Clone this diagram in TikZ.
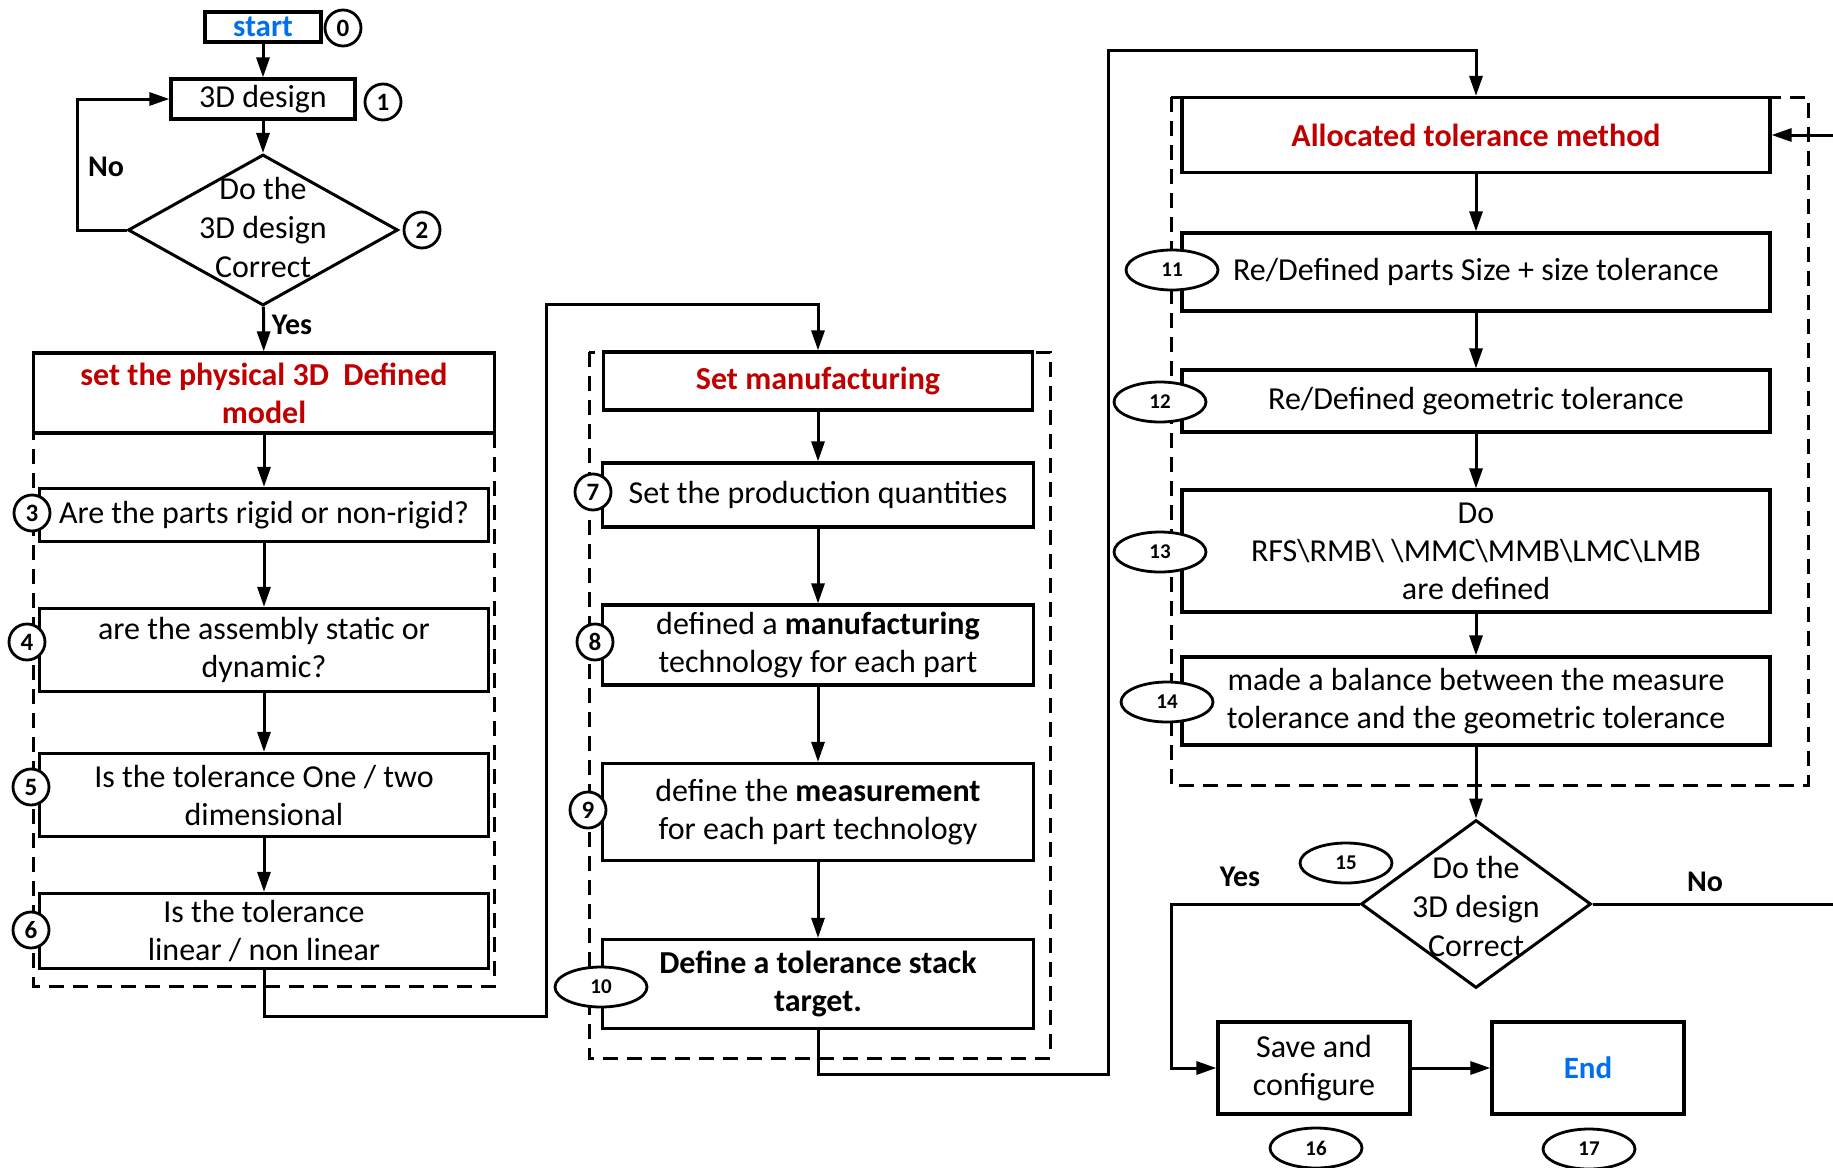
\documentclass[tikz,border=0pt]{standalone}
\usepackage{fontspec}
\setmainfont{Carlito}
\usetikzlibrary{shapes.geometric,arrows.meta}
\definecolor{headred}{RGB}{192,0,0}
\definecolor{linkblue}{RGB}{0,112,240}

\begin{document}
\begin{tikzpicture}[x=1pt,y=-1pt]
\tikzstyle{every node}+=[inner sep=0pt]
\tikzstyle{stepbox}=[draw=black,line width=3.2pt,fill=white,rectangle,align=center,font=\fontsize{32}{38}\selectfont]
\tikzstyle{headbox}=[stepbox,font=\fontsize{32}{38}\selectfont\bfseries,text=headred]
\tikzstyle{decision}=[draw=black,line width=3pt,fill=white,diamond]
\tikzstyle{numcirc}=[draw=black,line width=2.8pt,fill=white,circle,minimum size=36pt,font=\fontsize{25}{25}\selectfont\bfseries]
\tikzstyle{numoval}=[draw=black,line width=2.8pt,fill=white,ellipse,minimum width=92pt,minimum height=40pt,font=\fontsize{21}{21}\selectfont\bfseries]
\tikzstyle{arr}=[line width=3pt,-{Triangle[length=20pt,width=13pt]}]
\tikzstyle{link}=[line width=3pt]
\tikzstyle{group}=[line width=3pt,dash pattern=on 15pt off 9pt]
\tikzstyle{answer}=[font=\fontsize{30}{30}\selectfont\bfseries]
\tikzstyle{plain}=[align=center,font=\fontsize{32}{39}\selectfont]

\useasboundingbox (0,0) rectangle (1833,1167);

\draw [group] (33.5,353) rectangle (494.5,986);
\draw [group] (589,352) rectangle (1050,1058);
\draw [group] (1171,97) rectangle (1808,785);

\node [stepbox,minimum width=116pt,minimum height=30pt,font=\fontsize{31}{31}\selectfont\bfseries,text=linkblue] (start) at (263,27) {start};
\node [numcirc] (n0) at (343,28) {0};
\node [stepbox,minimum width=184pt,minimum height=40pt] (design) at (263,99) {3D design};
\node [numcirc] (n1) at (383,102) {1};
\node [decision,minimum width=270pt,minimum height=151pt] (dec1) at (263,230) {};
\node [plain] (dec1txt) at (263,228) {Do the\\3D design\\Correct};
\node [numcirc] (n2) at (422,230) {2};
\node [answer] (no1) at (106,167) {No};
\node [answer] (yes1) at (292,325) {Yes};

\node [headbox,minimum width=461pt,minimum height=80pt] (phys) at (264,393) {set the physical 3D\ \ Defined\\model};
\node [stepbox,minimum width=449pt,minimum height=53pt] (q3) at (264,515) {Are the parts rigid or non-rigid?};
\node [numcirc] (n3) at (32,513) {3};
\node [stepbox,minimum width=449pt,minimum height=83pt] (q4) at (264,650) {are the assembly static or\\dynamic?};
\node [numcirc] (n4) at (27,642) {4};
\node [stepbox,minimum width=449pt,minimum height=83pt] (q5) at (264,795) {Is the tolerance One / two\\dimensional};
\node [numcirc] (n5) at (31,787) {5};
\node [stepbox,minimum width=449pt,minimum height=75pt] (q6) at (264,931) {Is the tolerance\\linear / non linear};
\node [numcirc] (n6) at (31,930) {6};

\node [headbox,minimum width=429pt,minimum height=58pt] (setman) at (818,381) {Set manufacturing};
\node [stepbox,minimum width=431pt,minimum height=64pt] (s7) at (818,495) {Set the production quantities};
\node [numcirc] (n7) at (593,492) {7};
\node [stepbox,minimum width=431pt,minimum height=80pt] (s8) at (818,645) {defined a \textbf{manufacturing}\\technology for each part};
\node [numcirc] (n8) at (595,642) {8};
\node [stepbox,minimum width=431pt,minimum height=97pt] (s9) at (818,812) {define the \textbf{measurement}\\for each part technology};
\node [numcirc] (n9) at (588,810) {9};
\node [stepbox,minimum width=431pt,minimum height=89pt,font=\fontsize{32}{38}\selectfont\bfseries] (s10) at (818,984) {Define a tolerance stack\\target.};
\node [numoval] (n10) at (601,987) {10};

\node [headbox,minimum width=588pt,minimum height=75pt] (alloc) at (1476,135) {Allocated tolerance method};
\node [stepbox,minimum width=588pt,minimum height=78pt] (s11) at (1476,272) {Re/Defined parts Size + size tolerance};
\node [numoval] (n11) at (1172,270) {11};
\node [stepbox,minimum width=588pt,minimum height=62pt] (s12) at (1476,401) {Re/Defined geometric tolerance};
\node [numoval] (n12) at (1160,402) {12};
\node [stepbox,minimum width=588pt,minimum height=122pt] (s13) at (1476,551) {Do\\RFS\textbackslash RMB\textbackslash\ \textbackslash MMC\textbackslash MMB\textbackslash LMC\textbackslash LMB\\are defined};
\node [numoval] (n13) at (1160,552) {13};
\node [stepbox,minimum width=588pt,minimum height=88pt] (s14) at (1476,701) {made a balance between the measure\\tolerance and the geometric tolerance};
\node [numoval] (n14) at (1167,702) {14};
\node [decision,minimum width=230pt,minimum height=168pt] (dec2) at (1476,904) {};
\node [plain] (dec2txt) at (1476,906) {Do the\\3D design\\Correct};
\node [numoval] (n15) at (1346,863) {15};
\node [answer] (yes2) at (1240,877) {Yes};
\node [answer] (no2) at (1705,882) {No};
\node [stepbox,minimum width=192pt,minimum height=92pt] (save) at (1314,1068) {Save and\\configure};
\node [numoval] (n16) at (1316,1148) {16};
\node [stepbox,minimum width=192pt,minimum height=92pt,font=\fontsize{31}{37}\selectfont\bfseries,text=linkblue] (end) at (1588,1068) {End};
\node [numoval] (n17) at (1589,1149) {17};

\coordinate (b1) at (546,1016);
\coordinate (b2) at (546,304);
\coordinate (c1) at (1108,1074);
\coordinate (c2) at (1108,50);
\coordinate (y1) at (1171,904);
\coordinate (noend) at (1833,904);
\coordinate (backin) at (1833,135);

\draw [arr] (start) -- (design);
\draw [arr] (design) -- (dec1);
\draw [arr] (dec1.west) -- ++(-49,0) |- (design.west);
\draw [arr] (dec1) -- (phys);
\draw [arr] (phys) -- (q3);
\draw [arr] (q3) -- (q4);
\draw [arr] (q4) -- (q5);
\draw [arr] (q5) -- (q6);
\draw [arr] (q6.south) |- (b1) -- (b2) -| (setman.north);
\draw [arr] (setman) -- (s7);
\draw [arr] (s7) -- (s8);
\draw [arr] (s8) -- (s9);
\draw [arr] (s9) -- (s10);
\draw [arr] (s10.south) |- (c1) -- (c2) -| (alloc.north);
\draw [arr] (alloc) -- (s11);
\draw [arr] (s11) -- (s12);
\draw [arr] (s12) -- (s13);
\draw [arr] (s13) -- (s14);
\draw [arr] (s14) -- (dec2);
\draw [arr] (dec2.west) -- (y1) |- (save.west);
\draw [arr] (save) -- (end);
\draw [link] (dec2.east) -- (noend);
\draw [arr] (backin) -- (alloc.east);
\end{tikzpicture}
\end{document}
